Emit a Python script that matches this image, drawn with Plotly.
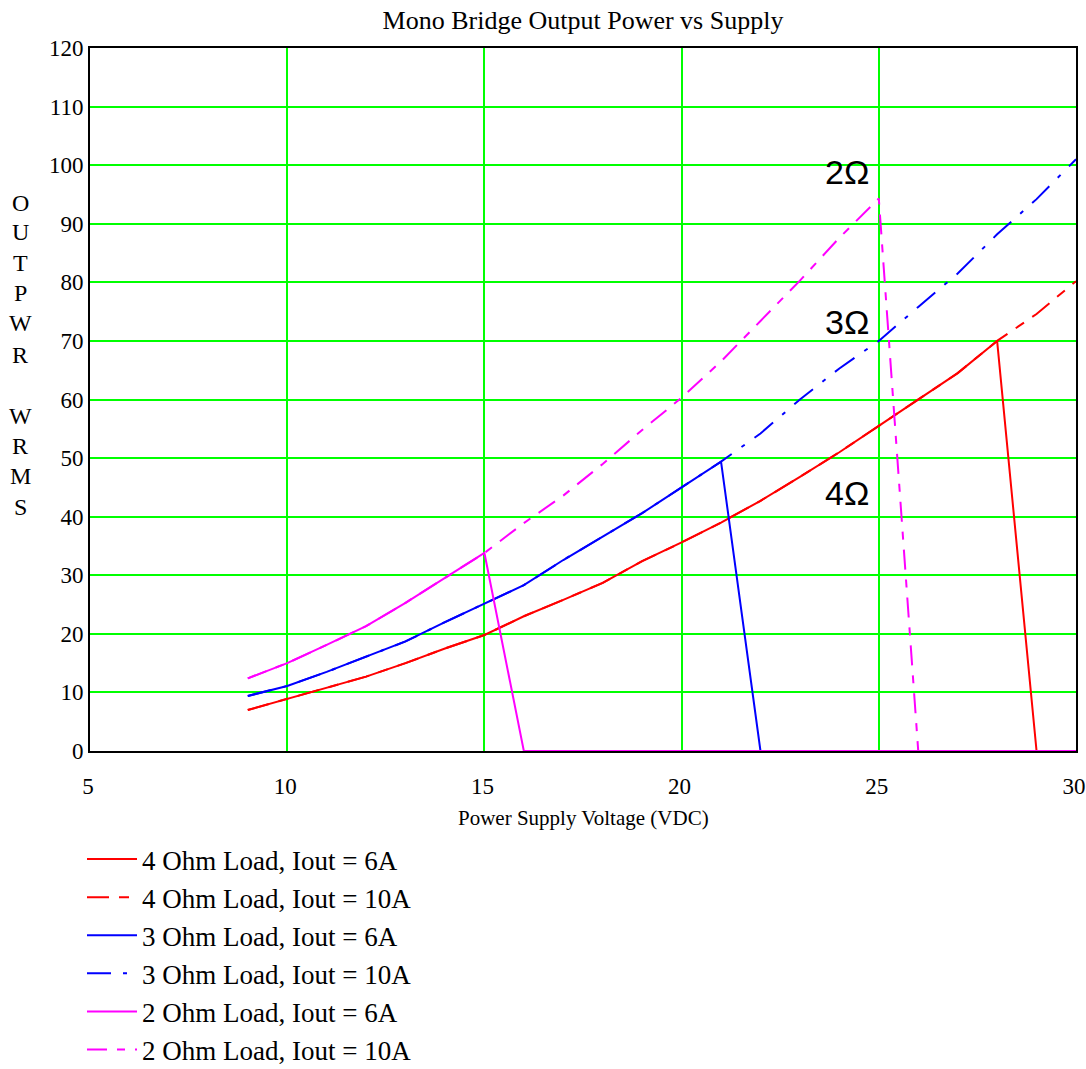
import plotly.graph_objects as go

# ---- data ----
volts = [9, 10, 11, 12, 13, 14, 15, 16, 17, 18, 19, 20, 21, 22, 23, 24, 25, 26, 27, 28, 29, 30]

p4_6A  = [7.0, 8.9, 10.7, 12.7, 15.0, 17.5, 19.8, 23.0, 25.8, 28.7, 32.4, 35.6, 39.0, 42.7, 46.8, 51.0, 55.5, 60.0, 64.5, 70.0, 0, 0]
p4_10A = [7.0, 8.9, 10.7, 12.7, 15.0, 17.5, 19.8, 23.0, 25.8, 28.7, 32.4, 35.6, 39.0, 42.7, 46.8, 51.0, 55.5, 60.0, 64.5, 70.0, 74.6, 80.2]
p3_6A  = [9.4, 11.1, 13.5, 16.1, 18.7, 22.0, 25.2, 28.3, 32.6, 36.6, 40.6, 45.0, 49.4, 0, 0, 0, 0, 0, 0, 0, 0, 0]
p3_10A = [9.4, 11.1, 13.5, 16.1, 18.7, 22.0, 25.2, 28.3, 32.6, 36.6, 40.6, 45.0, 49.4, 54.2, 60.0, 65.3, 70.0, 75.8, 81.5, 88.2, 94.2, 101.0]
p2_6A  = [12.4, 15.0, 18.1, 21.3, 25.3, 29.5, 33.8, 0, 0, 0, 0, 0, 0, 0, 0, 0, 0, 0, 0, 0, 0, 0]
p2_10A = [12.4, 15.0, 18.1, 21.3, 25.3, 29.5, 33.8, 38.9, 43.6, 49.0, 54.8, 60.3, 66.5, 73.4, 80.3, 87.6, 94.3, 0, 0, 0, 0, 0]

series_names = ["4 Ohm Load, Iout = 6A", "4 Ohm Load, Iout = 10A",
                "3 Ohm Load, Iout = 6A", "3 Ohm Load, Iout = 10A",
                "2 Ohm Load, Iout = 6A", "2 Ohm Load, Iout = 10A"]
series_values = [p4_6A, p4_10A, p3_6A, p3_10A, p2_6A, p2_10A]
series_colors = ["#ff0000", "#ff0000", "#0000ff", "#0000ff", "#ff00ff", "#ff00ff"]
series_dashes = ["solid", "22px,10px,10px,10px", "solid", "24px,12px,4px,12px",
                 "solid", "20px,10px,8px,10px"]

x_ticks = [5, 10, 15, 20, 25, 30]
y_ticks = [0, 10, 20, 30, 40, 50, 60, 70, 80, 90, 100, 110, 120]

load_labels = ["2Ω", "3Ω", "4Ω"]
load_label_x = [24.2, 24.2, 24.2]
load_label_y = [98.8, 73.2, 44.0]

ytitle_letters = ["O", "U", "T", "P", "W", "R", "W", "R", "M", "S"]
ytitle_px = [203, 232, 263, 293, 323, 355, 416, 446, 476, 507]

SERIF = "Liberation Serif, Times New Roman, serif"

fig = go.Figure()
for name, vals, col, dash in zip(series_names, series_values, series_colors, series_dashes):
    fig.add_trace(go.Scatter(
        x=volts, y=vals, mode="lines", name=name,
        line=dict(color=col, width=2, dash=dash),
    ))

# Plot area geometry (pixels)
W, H = 1086, 1069
L, R, T, B = 90, 10, 48, 318
plot_w = W - L - R
plot_h = H - T - B

annotations = []
for txt, xv, yv in zip(load_labels, load_label_x, load_label_y):
    annotations.append(dict(x=xv, y=yv, xref="x", yref="y", text=txt, showarrow=False,
                            font=dict(family="Liberation Sans, Arial, sans-serif", size=34, color="black")))
for letter, py in zip(ytitle_letters, ytitle_px):
    annotations.append(dict(x=(20 - L) / plot_w, y=(H - B - py) / plot_h, xref="paper", yref="paper",
                            text=letter, showarrow=False, xanchor="center", yanchor="middle",
                            font=dict(family=SERIF, size=24, color="black")))
annotations.append(dict(x=0.5, y=(H - B - 818) / plot_h, xref="paper", yref="paper",
                        text="Power Supply Voltage (VDC)", showarrow=False, yanchor="middle",
                        font=dict(family=SERIF, size=21, color="black")))

fig.update_layout(
    width=W, height=H,
    margin=dict(l=L, r=R, t=T, b=B, autoexpand=False),
    paper_bgcolor="white", plot_bgcolor="white",
    title=dict(text="Mono Bridge Output Power vs Supply", x=0.5, xref="paper",
               y=1 - 20 / H, yref="container", yanchor="middle",
               font=dict(family=SERIF, size=26, color="black")),
    xaxis=dict(range=[5, 30], tickvals=x_ticks, showgrid=True, gridcolor="#00ff00", gridwidth=1.5,
               showline=True, linecolor="black", linewidth=2, mirror=True, automargin=False,
               ticks="outside", ticklen=0, ticklabelstandoff=13, ticklabelshift=-2,
               ticklabeloverflow="allow", zeroline=False,
               tickfont=dict(family=SERIF, size=23, color="black")),
    yaxis=dict(range=[0, 120], tickvals=y_ticks, showgrid=True, gridcolor="#00ff00", gridwidth=1.5,
               showline=True, linecolor="black", linewidth=2, mirror=True, automargin=False,
               ticks="outside", ticklen=0, zeroline=False,
               tickfont=dict(family=SERIF, size=23, color="black")),
    legend=dict(x=-8 / plot_w, xanchor="left", y=(H - B - 835) / plot_h, yanchor="top",
                font=dict(family=SERIF, size=27, color="black"),
                bgcolor="rgba(0,0,0,0)", tracegroupgap=0, itemwidth=50),
    annotations=annotations,
    showlegend=True,
)

fig.write_html("out.html", config={"displayModeBar": False},
               post_script="document.body.style.margin='0';document.body.style.overflow='hidden';")
